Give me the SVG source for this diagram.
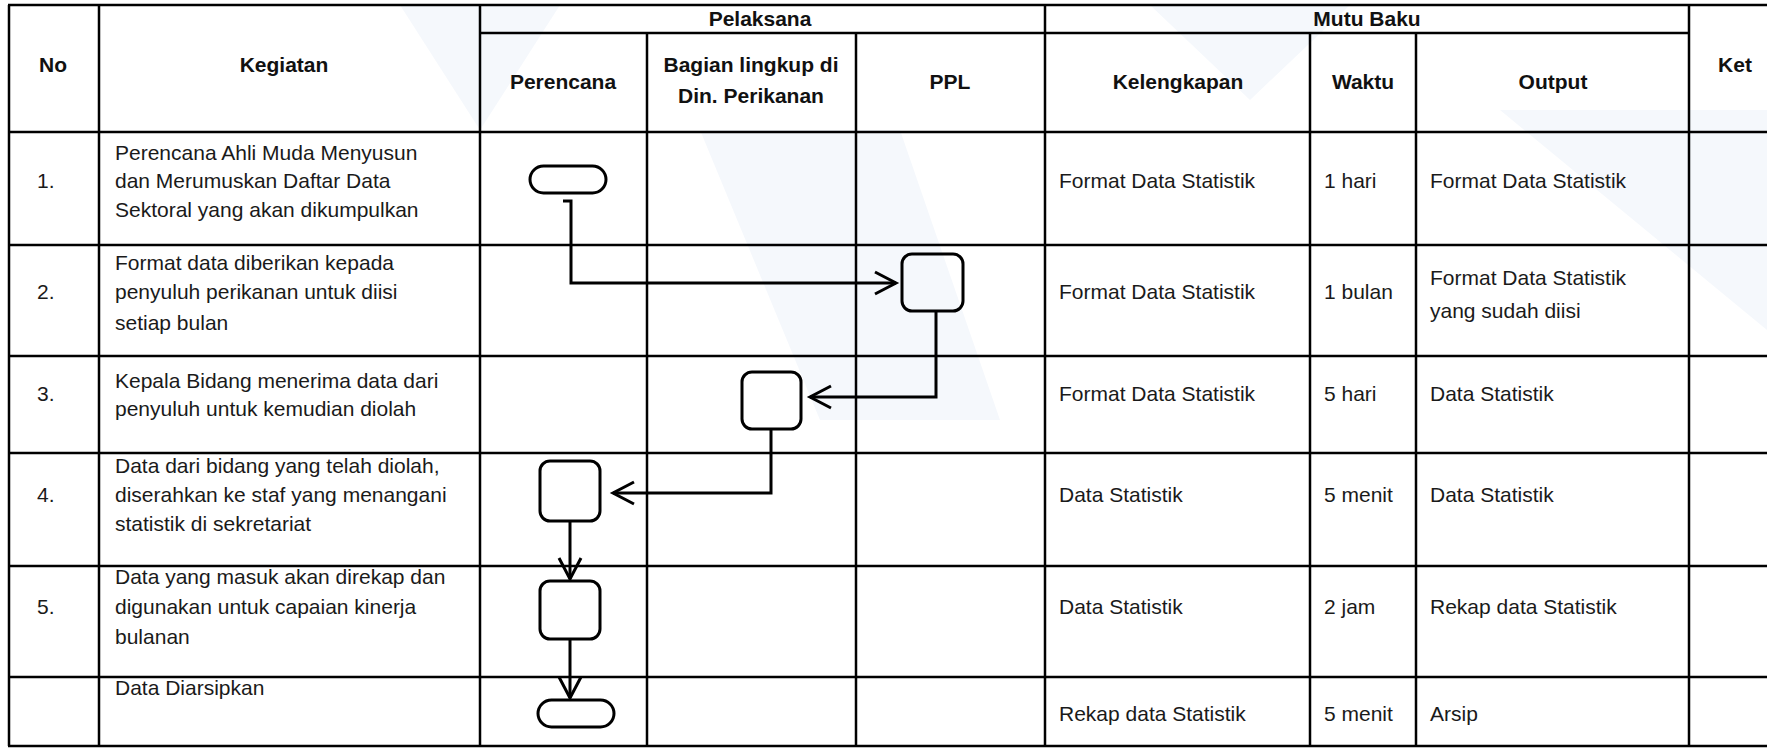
<svg xmlns="http://www.w3.org/2000/svg" width="1767" height="749" viewBox="0 0 1767 749">
<style>
.grid line{stroke:#000;stroke-width:2.5}
.h{font-family:"Liberation Sans",Arial,sans-serif;font-size:21px;font-weight:bold;fill:#111;text-anchor:middle}
.t{font-family:"Liberation Sans",Arial,sans-serif;font-size:21px;fill:#1a1a1a}
.shape{fill:none;stroke:#000;stroke-width:3}
.conn{fill:none;stroke:#000;stroke-width:3}
</style>
<defs>
<marker id="arr" markerUnits="userSpaceOnUse" markerWidth="28" markerHeight="30" refX="23" refY="13" orient="auto">
<path d="M2,2 L23,13 L2,24" fill="none" stroke="#000" stroke-width="3"/>
</marker>
</defs>
<rect width="1767" height="749" fill="#fff"/>
<g id="watermark" fill="#f5f8fc">
<polygon points="400,5 560,5 480,130"/>
<polygon points="700,130 900,130 1000,420 820,420"/>
<polygon points="1150,5 1350,5 1250,100"/>
<polygon points="1500,110 1767,110 1767,330"/>
</g>
<g id="grid" class="grid">
<line x1="8" y1="5" x2="1767" y2="5"/>
<line x1="480" y1="33" x2="1689" y2="33"/>
<line x1="8" y1="132" x2="1767" y2="132"/>
<line x1="8" y1="245" x2="1767" y2="245"/>
<line x1="8" y1="356" x2="1767" y2="356"/>
<line x1="8" y1="453" x2="1767" y2="453"/>
<line x1="8" y1="566" x2="1767" y2="566"/>
<line x1="8" y1="677" x2="1767" y2="677"/>
<line x1="8" y1="746" x2="1767" y2="746"/>
<line x1="9" y1="5" x2="9" y2="746"/>
<line x1="99" y1="5" x2="99" y2="746"/>
<line x1="480" y1="5" x2="480" y2="746"/>
<line x1="647" y1="33" x2="647" y2="746"/>
<line x1="856" y1="33" x2="856" y2="746"/>
<line x1="1045" y1="5" x2="1045" y2="746"/>
<line x1="1310" y1="33" x2="1310" y2="746"/>
<line x1="1416" y1="33" x2="1416" y2="746"/>
<line x1="1689" y1="5" x2="1689" y2="746"/>
</g>
<g id="header">
<text class="h" x="53" y="72">No</text>
<text class="h" x="284" y="72">Kegiatan</text>
<text class="h" x="760" y="26">Pelaksana</text>
<text class="h" x="1367" y="26">Mutu Baku</text>
<text class="h" x="563" y="89">Perencana</text>
<text class="h" x="751" y="72">Bagian lingkup di</text>
<text class="h" x="751" y="103">Din. Perikanan</text>
<text class="h" x="950" y="89">PPL</text>
<text class="h" x="1178" y="89">Kelengkapan</text>
<text class="h" x="1363" y="89">Waktu</text>
<text class="h" x="1553" y="89">Output</text>
<text class="h" x="1735" y="72">Ket</text>
</g>
<g id="rows" class="t">
<text x="37" y="188">1.</text>
<text x="115" y="160">Perencana Ahli Muda Menyusun</text>
<text x="115" y="188">dan Merumuskan Daftar Data</text>
<text x="115" y="217">Sektoral yang akan dikumpulkan</text>
<text x="1059" y="188">Format Data Statistik</text>
<text x="1324" y="188">1 hari</text>
<text x="1430" y="188">Format Data Statistik</text>

<text x="37" y="299">2.</text>
<text x="115" y="270">Format data diberikan kepada</text>
<text x="115" y="299">penyuluh perikanan untuk diisi</text>
<text x="115" y="330">setiap bulan</text>
<text x="1059" y="299">Format Data Statistik</text>
<text x="1324" y="299">1 bulan</text>
<text x="1430" y="285">Format Data Statistik</text>
<text x="1430" y="318">yang sudah diisi</text>

<text x="37" y="401">3.</text>
<text x="115" y="388">Kepala Bidang menerima data dari</text>
<text x="115" y="416">penyuluh untuk kemudian diolah</text>
<text x="1059" y="401">Format Data Statistik</text>
<text x="1324" y="401">5 hari</text>
<text x="1430" y="401">Data Statistik</text>

<text x="37" y="502">4.</text>
<text x="115" y="473">Data dari bidang yang telah diolah,</text>
<text x="115" y="502">diserahkan ke staf yang menangani</text>
<text x="115" y="531">statistik di sekretariat</text>
<text x="1059" y="502">Data Statistik</text>
<text x="1324" y="502">5 menit</text>
<text x="1430" y="502">Data Statistik</text>

<text x="37" y="614">5.</text>
<text x="115" y="584">Data yang masuk akan direkap dan</text>
<text x="115" y="614">digunakan untuk capaian kinerja</text>
<text x="115" y="644">bulanan</text>
<text x="1059" y="614">Data Statistik</text>
<text x="1324" y="614">2 jam</text>
<text x="1430" y="614">Rekap data Statistik</text>

<text x="115" y="695">Data Diarsipkan</text>
<text x="1059" y="721">Rekap data Statistik</text>
<text x="1324" y="721">5 menit</text>
<text x="1430" y="721">Arsip</text>
</g>
<g id="n1"><rect class="shape" x="530" y="166" width="76" height="27" rx="13.5"/></g>
<g id="n2"><rect class="shape" x="902" y="254" width="61" height="57" rx="10"/></g>
<g id="n3"><rect class="shape" x="742" y="372" width="59" height="57" rx="10"/></g>
<g id="n4"><rect class="shape" x="540" y="461" width="60" height="60" rx="10"/></g>
<g id="n5"><rect class="shape" x="540" y="581" width="60" height="58" rx="10"/></g>
<g id="n6"><rect class="shape" x="538" y="700" width="76" height="27" rx="13.5"/></g>
<g id="connectors" class="conn">
<path d="M563,201 H571 V283 H896" marker-end="url(#arr)"/>
<path d="M936,311 V397 H810" marker-end="url(#arr)"/>
<path d="M771,429 V493 H613" marker-end="url(#arr)"/>
<path d="M570,521 V579" marker-end="url(#arr)"/>
<path d="M570,639 V698" marker-end="url(#arr)"/>
</g>
</svg>
